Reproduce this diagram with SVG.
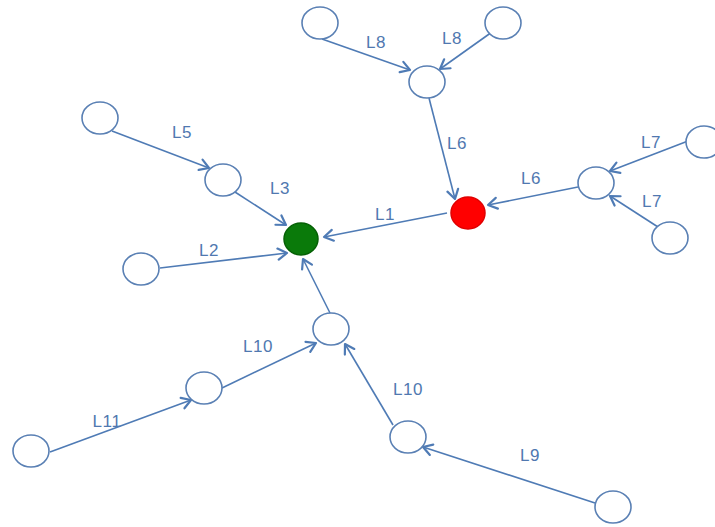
<svg xmlns="http://www.w3.org/2000/svg" width="715" height="527" viewBox="0 0 715 527">
<style>
.node{fill:#ffffff;stroke:#5a80b4;stroke-width:1.6}
.edge{stroke:#4f7bb5;stroke-width:1.6;fill:none;marker-end:url(#arr)}
.lbl{font-family:"Liberation Sans",Arial,sans-serif;font-size:17px;letter-spacing:0.6px;fill:#5078b0;text-anchor:middle}
</style>
<defs>
<marker id="arr" markerUnits="userSpaceOnUse" markerWidth="14" markerHeight="14" viewBox="0 0 14 14" refX="11" refY="7" orient="auto">
<path d="M2,1.5 L11,7 L2,12.5" fill="none" stroke="#4f7bb5" stroke-width="2.2" stroke-linecap="round" stroke-linejoin="round"/>
</marker>
</defs>
<rect width="715" height="527" fill="#ffffff"/>
<g id="connectors">
<line class="edge" x1="322" y1="39" x2="410" y2="70"/>
<line class="edge" x1="492" y1="32" x2="440" y2="69"/>
<line class="edge" x1="429" y1="98" x2="455" y2="199"/>
<line class="edge" x1="688" y1="141" x2="610" y2="171"/>
<line class="edge" x1="658" y1="227" x2="610" y2="196"/>
<line class="edge" x1="578" y1="187" x2="488" y2="205"/>
<line class="edge" x1="447" y1="213" x2="324" y2="237"/>
<line class="edge" x1="112" y1="131" x2="209" y2="168"/>
<line class="edge" x1="235" y1="192" x2="286" y2="225"/>
<line class="edge" x1="160" y1="268" x2="287" y2="253"/>
<line class="edge" x1="330" y1="313" x2="303" y2="259"/>
<line class="edge" x1="222" y1="388" x2="316" y2="343"/>
<line class="edge" x1="50" y1="452" x2="191" y2="400"/>
<line class="edge" x1="393" y1="425" x2="345" y2="344"/>
<line class="edge" x1="595" y1="503" x2="423" y2="447"/>
</g>
<g id="n8a"><ellipse class="node" cx="320" cy="23" rx="18" ry="16"/></g>
<g id="n8b"><ellipse class="node" cx="503" cy="23" rx="18" ry="16"/></g>
<g id="n6"><ellipse class="node" cx="427" cy="82" rx="18" ry="16"/></g>
<g id="red"><ellipse cx="468" cy="213" rx="17" ry="16" fill="#ff0000" stroke="#e00000" stroke-width="1.5"/></g>
<g id="green"><ellipse cx="301" cy="239" rx="17" ry="16" fill="#0a7a0a" stroke="#056005" stroke-width="1.5"/></g>
<g id="n7"><ellipse class="node" cx="596" cy="183" rx="18" ry="16"/></g>
<g id="n7a"><ellipse class="node" cx="704" cy="142" rx="18" ry="16"/></g>
<g id="n7b"><ellipse class="node" cx="670" cy="238" rx="18" ry="16"/></g>
<g id="n5a"><ellipse class="node" cx="100" cy="118" rx="18" ry="16"/></g>
<g id="n5"><ellipse class="node" cx="223" cy="180" rx="18" ry="16"/></g>
<g id="n2"><ellipse class="node" cx="141" cy="269" rx="18" ry="16"/></g>
<g id="nb"><ellipse class="node" cx="331" cy="329" rx="18" ry="16"/></g>
<g id="n10a"><ellipse class="node" cx="204" cy="388" rx="18" ry="16"/></g>
<g id="n11"><ellipse class="node" cx="31" cy="451" rx="18" ry="16"/></g>
<g id="n10b"><ellipse class="node" cx="408" cy="437" rx="18" ry="16"/></g>
<g id="n9"><ellipse class="node" cx="613" cy="507" rx="18" ry="16"/></g>
<g id="labels">
<text class="lbl" x="376" y="48">L8</text>
<text class="lbl" x="452" y="44">L8</text>
<text class="lbl" x="457" y="149">L6</text>
<text class="lbl" x="531" y="184">L6</text>
<text class="lbl" x="651" y="148">L7</text>
<text class="lbl" x="652" y="207">L7</text>
<text class="lbl" x="182" y="138">L5</text>
<text class="lbl" x="280" y="194">L3</text>
<text class="lbl" x="385" y="220">L1</text>
<text class="lbl" x="209" y="256">L2</text>
<text class="lbl" x="258" y="352">L10</text>
<text class="lbl" x="107" y="427">L11</text>
<text class="lbl" x="408" y="395">L10</text>
<text class="lbl" x="530" y="461">L9</text>
</g>
</svg>
